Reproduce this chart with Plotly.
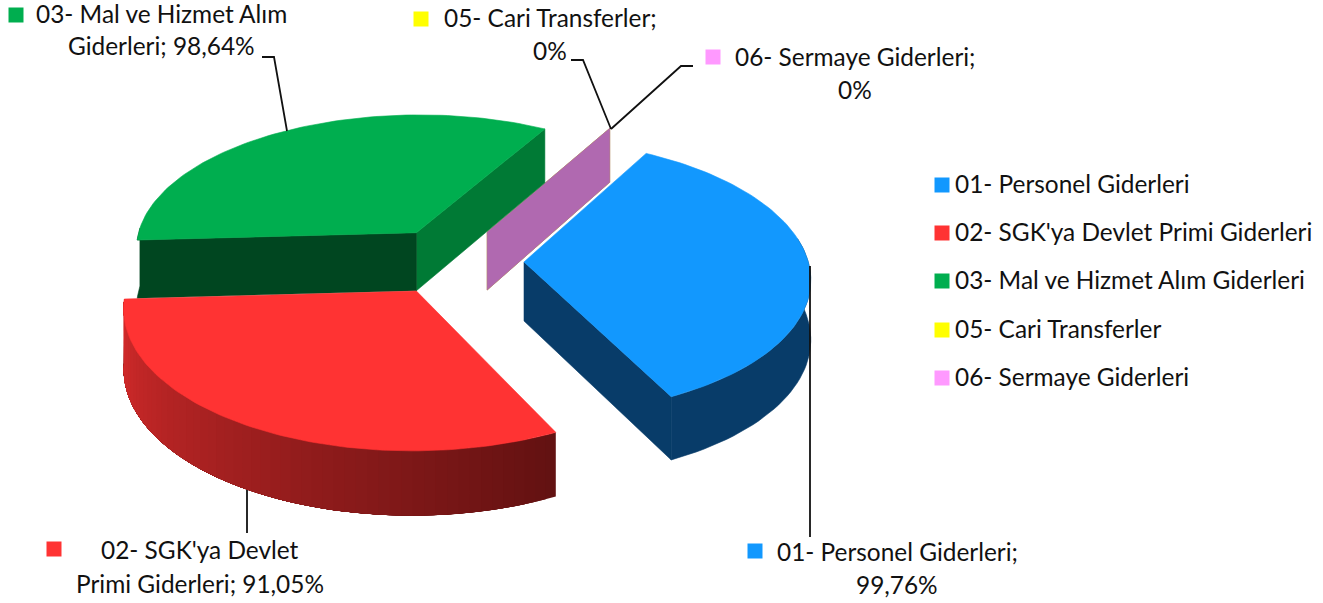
import math
import plotly.graph_objects as go

# ---- data ----
categories = ["01- Personel Giderleri", "02- SGK'ya Devlet Primi Giderleri",
              "03- Mal ve Hizmet Alım Giderleri", "05- Cari Transferler", "06- Sermaye Giderleri"]
values = [99.76, 91.05, 98.64, 0, 0]
value_labels = ["99,76%", "91,05%", "98,64%", "0%", "0%"]
colors = ["#1298FE", "#FF3333", "#00AE4F", "#FFFF00", "#FF99FF"]

# ---- 3D view of the pie ----
START, EXPLODE = 29.5, 0.25
CX, CY, A, B, P, ROLL, DEPTH = 453, 261, 284, 136, 0.106, 0.0, 59
FONT = dict(family="Lato", size=24.4, color="#111111")


def proj(X, Y, z=0):
    w = 1 - P * Y
    sx = A * X / w
    return CX + sx, CY + B * Y / w + ROLL * sx + z * DEPTH * (1 + 0.08 * Y)


def point(th, mid, r=1.0, z=0):
    t, m = math.radians(th), math.radians(mid)
    return proj(EXPLODE * math.sin(m) + r * math.sin(t), -EXPLODE * math.cos(m) - r * math.cos(t), z)


def arc(a, b, mid, z=0, n=90):
    return [point(a + (b - a) * i / n, mid, 1.0, z) for i in range(n + 1)]


fig = go.Figure()


def poly(pts, color, lw=0.6):
    xs = [p[0] for p in pts] + [pts[0][0]]
    ys = [p[1] for p in pts] + [pts[0][1]]
    fig.add_trace(go.Scatter(x=xs, y=ys, mode="lines", fill="toself", fillcolor=color,
                             line=dict(color=color, width=lw), hoverinfo="skip", showlegend=False))


def mix(c1, c2, f):
    return "rgb(%d,%d,%d)" % tuple(c1[i] + (c2[i] - c1[i]) * f for i in range(3))


total = sum(values)
spans, a0 = [], START
for v in values:
    spans.append((a0, a0 + v / total * 360))
    a0 = spans[-1][1]

# zero-valued slices: only their cut wall shows
for i in (3, 4):
    s = spans[i][0]
    apex_t, apex_b = point(s, s, 0, 0), point(s, s, 0, 1)
    poly([apex_t, point(s, s, 1, 0), point(s, s, 1, 1), apex_b], "#B069B0" if i == 4 else "#B0B000")

# green
s, e = spans[2]
m = (s + e) / 2
ap, ab = point(s, m, 0, 0), point(s, m, 0, 1)
poly([ap, point(e, m, 1, 0), point(e, m, 1, 1), ab], "#007A35")
poly([ap, *arc(s, 272, m, 0, 6), *arc(272, s, m, 1, 6), ab], "#004620")
poly([ap, *arc(s, e, m)], colors[2])

# blue
s, e = spans[0]
m = (s + e) / 2
ap, ab = point(s, m, 0, 0), point(s, m, 0, 1)
poly([ap, point(e, m, 1, 0), point(e, m, 1, 1), ab], "#083C69")
poly(arc(80, e, m, 0, 40) + arc(e, 80, m, 1, 40), "#083C69")
poly([ap, *arc(s, e, m)], colors[0])

# red, with its shaded rim (each band overlaps the next so that no seams show)
s, e = spans[1]
m = (s + e) / 2
steps = 56
for k in range(steps):
    t0 = s + (e - s) * k / steps
    col = mix((0x63, 0x12, 0x12), (0xD8, 0x2C, 0x2C), k / (steps - 1))
    poly(arc(t0, e, m, 0, 30) + arc(e, t0, m, 1, 30), col, 0)
poly([point(s, m, 0, 0), *arc(s, e, m)], colors[1])

# ---- legend ----
legend_y = [185, 233, 281, 330, 378]
fig.add_trace(go.Scatter(x=[942] * 5, y=legend_y, mode="markers", hoverinfo="skip", showlegend=False,
                         marker=dict(symbol="square", size=15, color=colors, line=dict(width=0))))

# ---- data-label keys ----
key_x = [755, 54, 16, 421, 713]
key_y = [551, 549, 15, 19, 57]
fig.add_trace(go.Scatter(x=key_x, y=key_y, mode="markers", hoverinfo="skip", showlegend=False,
                         marker=dict(symbol="square", size=15, color=colors, line=dict(width=0))))

annotations = []


def text(x, y, s, anchor="left"):
    annotations.append(dict(x=x, y=y - 1.5, xref="x", yref="y", text=s, showarrow=False, xanchor=anchor,
                            yanchor="middle", font=FONT, borderpad=0, borderwidth=0))


for c, y in zip(categories, legend_y):
    text(955, y, c)

text(897, 553, "01- Personel Giderleri;", "center")
text(897, 586, value_labels[0], "center")
text(200, 551, "02- SGK'ya Devlet", "center")
text(200, 585, "Primi Giderleri; " + value_labels[1], "center")
text(161, 15, "03- Mal ve Hizmet Alım", "center")
text(161, 47, "Giderleri; " + value_labels[2], "center")
text(550, 19, "05- Cari Transferler;", "center")
text(550, 52, value_labels[3], "center")
text(855, 58, "06- Sermaye Giderleri;", "center")
text(855, 91, value_labels[4], "center")

# ---- leader lines ----
leaders = ["M810,266 L810,537", "M247,490 L247,533", "M262,57 L274,57 L287,131",
           "M571,60 L583,60 L611,129", "M693,66 L681,66 L611,129"]
shapes = [dict(type="path", path=p, xref="x", yref="y", line=dict(color="#111111", width=1.8)) for p in leaders]

fig.update_layout(width=1323, height=603, margin=dict(l=0, r=0, t=0, b=0), autosize=False,
                  paper_bgcolor="white", plot_bgcolor="white", showlegend=False,
                  xaxis=dict(range=[0, 1323], visible=False, fixedrange=True),
                  yaxis=dict(range=[603, 0], visible=False, fixedrange=True),
                  annotations=annotations, shapes=shapes)
fig.write_html("out.html", config=dict(displayModeBar=False),
               post_script="document.body.style.margin='0';document.body.style.overflow='hidden';")
